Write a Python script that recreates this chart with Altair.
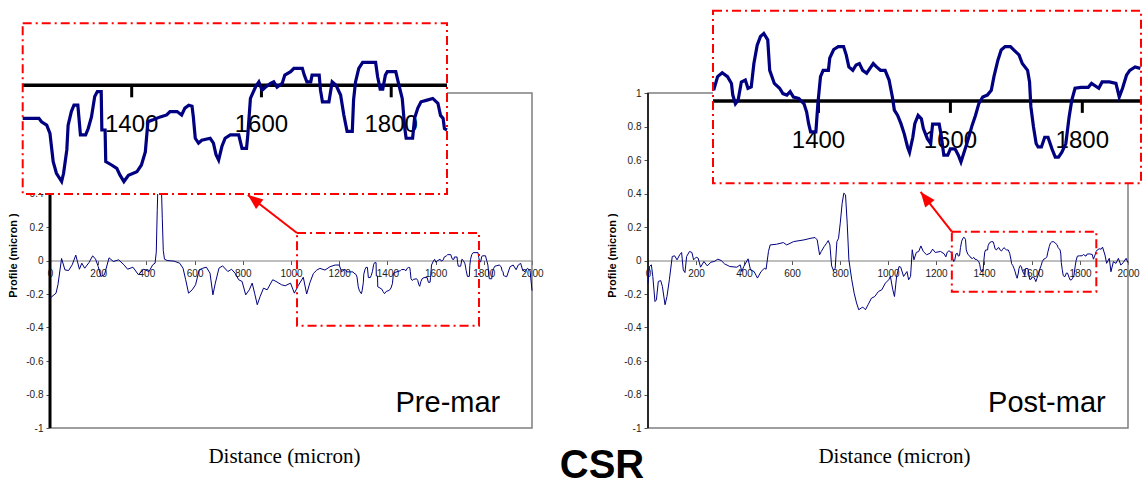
import math
import altair as alt
import pandas as pd

# ---------------- data ----------------
pre_d = [0, 25, 33, 48, 62, 77, 92, 107, 122, 132, 144, 162, 177, 189, 200, 211, 226, 245, 263, 285,
         307, 322, 344, 367, 389, 411, 426, 436, 441, 445, 450, 456, 461, 466, 470, 475, 486, 515, 538, 552,
         563, 575, 590, 604, 619, 634, 649, 664, 676, 686, 701, 716, 738, 753, 768, 783, 797, 812, 827, 839,
         849, 860, 872, 886, 901, 924, 938, 961, 976, 998, 1014, 1030, 1051, 1065, 1079, 1093, 1107, 1120, 1141, 1162,
         1183, 1200, 1210, 1224,
         1232, 1257, 1261, 1269, 1274, 1279, 1284, 1292, 1295, 1300, 1302, 1307, 1311, 1317, 1321, 1329, 1333, 1338,
         1343, 1347, 1353, 1354, 1359, 1360, 1369, 1377, 1382, 1388, 1395, 1408, 1415, 1421, 1425, 1433, 1444, 1454,
         1459, 1470, 1477, 1482, 1488, 1493, 1495, 1498, 1503, 1508, 1521, 1526, 1530, 1534, 1539, 1544, 1552, 1565,
         1570, 1577, 1579, 1583, 1591, 1596, 1601, 1606, 1614, 1619, 1624, 1632, 1636, 1645, 1650, 1663, 1666, 1670,
         1676, 1678, 1689, 1691, 1694, 1704, 1709, 1715, 1722, 1727, 1732, 1740, 1742, 1745, 1750, 1756, 1776, 1779,
         1783, 1787, 1791, 1794, 1807, 1812, 1817, 1821, 1823, 1833, 1836, 1841, 1846, 1854, 1864, 1872, 1876, 1880,
         1882, 1886,
         1895, 1909, 1922, 1934, 1943, 1953, 1961, 1971, 1981, 1992, 2000]
pre_v = [-0.225, -0.195, -0.145, 0.012, -0.056, -0.060, -0.026, 0.032, -0.052, -0.016, -0.046, -0.012, 0.028, 0.008,
         -0.036, -0.095, -0.085, 0.016, -0.006, 0.004,
         -0.026, -0.052, -0.040, -0.085, -0.052, -0.066, -0.026, -0.016, 0.05, 0.3, 0.55, 0.65, 0.5, 0.25, 0.06, 0.008,
         0.000, -0.004, -0.016, -0.046,
         -0.115, -0.195, -0.175, -0.145, -0.056, -0.046, -0.040, -0.076, -0.205, -0.135, -0.046, -0.032, -0.066, -0.052,
         -0.076, -0.115, -0.125, -0.205, -0.175, -0.135,
         -0.195, -0.264, -0.215, -0.165, -0.175, -0.115, -0.125, -0.145, -0.151, -0.135, -0.195, -0.15, -0.10, -0.20,
         -0.13, -0.077, -0.057, -0.047, -0.057, -0.037,
         -0.027, -0.027, -0.067, -0.052,
         -0.068, -0.068, -0.075, -0.082, -0.099, -0.157, -0.181, -0.198, -0.181, -0.133, -0.082, -0.054, -0.041, -0.041,
         -0.102, -0.102, -0.089, -0.065,
         -0.023, -0.013, -0.013, -0.092, -0.092, -0.157, -0.164, -0.171, -0.185, -0.198, -0.185, -0.178, -0.164, -0.137,
         -0.075, -0.071, -0.065, -0.061,
         -0.054, -0.054, -0.061, -0.047, -0.041, -0.043, -0.065, -0.109, -0.119, -0.113, -0.109, -0.119, -0.143, -0.154,
         -0.126, -0.109, -0.102, -0.102,
         -0.130, -0.130, -0.102, -0.027, -0.003, 0.007, -0.010, -0.004, 0.004, 0.007, -0.004, 0.004, 0.021, 0.028, 0.035,
         0.035, 0.021, 0.007,
         0.007, 0.021, 0.021, -0.010, -0.034, -0.034, 0.007, 0.000, -0.020, -0.061, -0.095, -0.095, -0.030, 0.007, 0.035,
         0.047, 0.047, 0.018,
         -0.008, -0.008, 0.021, 0.028, 0.028, 0.000, -0.027, -0.089, -0.109, -0.109, -0.068, -0.047, -0.034, -0.031,
         -0.027, -0.037, -0.062, -0.068,
         -0.089, -0.092,
         -0.097, -0.037, -0.027, -0.055, -0.027, -0.017, -0.057, -0.067, -0.047, -0.060, -0.18]

post_d = [0, 6, 14, 20, 29, 35, 43, 53, 60, 71, 79, 89, 101, 111, 121, 132, 140, 147, 154, 161,
          173, 183, 190, 201, 209, 219, 233, 247, 262, 276, 291, 305, 319, 341, 370, 384, 391, 399, 417, 427,
          442, 456, 471, 485, 492, 502, 509, 535, 564, 578, 607, 650, 679, 696, 705, 715, 722, 734, 744, 751,
          758, 765, 773, 780, 787, 794, 801, 809, 816, 823, 830, 837, 849, 859, 869, 878, 888, 895, 906, 917,
          931, 945, 960, 974, 989, 1003, 1010, 1020, 1027, 1036, 1046, 1053, 1065, 1079, 1086, 1094, 1101, 1108, 1118,
          1128, 1137, 1147, 1161, 1176, 1186, 1197, 1219, 1234,
          1241, 1247, 1254, 1262, 1268, 1270, 1274, 1278, 1283, 1289, 1293, 1298, 1302, 1307, 1312, 1317, 1323, 1326,
          1333, 1341, 1346, 1352, 1357, 1362, 1370, 1378, 1382, 1385, 1388, 1396, 1399, 1403, 1407, 1415, 1417, 1423,
          1430, 1438, 1442, 1446, 1452, 1457, 1462, 1467, 1473, 1478, 1483, 1488, 1494, 1501, 1507, 1512, 1515, 1520,
          1525, 1530, 1535, 1538, 1543, 1546, 1551, 1556, 1559, 1565, 1570, 1573, 1583, 1586, 1590, 1596, 1600, 1607,
          1612, 1616, 1620, 1625, 1633, 1638, 1643, 1649, 1656, 1662, 1666, 1672, 1677, 1683, 1691, 1696, 1704, 1709,
          1717, 1720, 1722, 1726, 1730, 1733, 1738, 1743, 1748, 1754, 1759, 1764, 1769, 1775, 1780, 1784, 1789, 1798,
          1809, 1814, 1825, 1830, 1841, 1851, 1856, 1861, 1867, 1872, 1880, 1888,
          1894, 1904, 1911, 1922, 1929, 1939, 1950, 1960, 1970, 1980, 1992, 2000]
post_v = [-0.135, -0.036, -0.026, -0.095, -0.245, -0.235, -0.125, -0.12, -0.155, -0.264, -0.215, -0.115, 0.024, 0.028,
          0.004, 0.034, 0.048, -0.056, -0.072, 0.024,
          0.054, 0.048, 0.004, 0.02, 0.014, -0.04, -0.006, -0.032, -0.01, -0.006, 0.008, 0.0, -0.02, -0.036, -0.04,
          -0.026, -0.066, -0.036, 0.01, -0.056,
          -0.066, -0.105, -0.066, -0.046, -0.052, 0.054, 0.093, 0.097, 0.107, 0.093, 0.113, 0.123, 0.133, 0.137, 0.123,
          0.034, 0.054, 0.083, 0.103, 0.119,
          0.093, -0.032, -0.06, -0.046, 0.113, 0.133, 0.223, 0.342, 0.402, 0.392, 0.223, 0.004, -0.115, -0.195, -0.254,
          -0.294, -0.284, -0.278, -0.294, -0.264,
          -0.225, -0.215, -0.185, -0.175, -0.135, -0.115, -0.095, -0.175, -0.215, -0.095, -0.036, -0.04, -0.095, -0.066,
          -0.115, -0.095, 0.064, 0.004, 0.048,
          0.054, 0.087, 0.054, 0.034, 0.044, 0.068, 0.048, 0.054, 0.040,
          0.022, 0.05, 0.058, 0.05, 0.036, 0.012, -0.006, 0.001, 0.039, 0.043, 0.026, 0.029, 0.077, 0.115, 0.133, 0.139,
          0.126, 0.063,
          0.036, 0.026, 0.015, 0.012, 0.019, 0.008, 0.005, -0.006, -0.023, -0.047, -0.064, -0.064, -0.006, 0.05, 0.063,
          0.063, 0.088, 0.106,
          0.112, 0.112, 0.095, 0.07, 0.063, 0.074, 0.077, 0.063, 0.057, 0.067, 0.077, 0.07, 0.063, 0.063, 0.043, 0.008,
          -0.019, -0.03,
          -0.047, -0.068, -0.095, -0.106, -0.075, -0.047, -0.03, -0.037, -0.057, -0.078, -0.088, -0.048, -0.048, -0.071,
          -0.112, -0.112, -0.099, -0.099,
          -0.112, -0.126, -0.109, -0.088, -0.05, -0.03, -0.006, 0.008, 0.012, 0.022, 0.05, 0.084, 0.105, 0.112, 0.112,
          0.105, 0.095, 0.077,
          0.063, 0.039, -0.012, -0.054, -0.088, -0.095, -0.095, -0.075, -0.075, -0.099, -0.116, -0.116, -0.106, -0.088,
          -0.033, 0.001, 0.026, 0.028,
          0.028, 0.036, 0.026, 0.039, 0.039, 0.036, 0.008, 0.026, 0.053, 0.063, 0.07, 0.067,
          0.08, 0.033, -0.017, 0.013, -0.067, -0.007, -0.017, 0.013, -0.027, -0.013, 0.013, -0.013]

x_ticks = [0, 200, 400, 600, 800, 1000, 1200, 1400, 1600, 1800, 2000]
y_ticks = [-1, -0.8, -0.6, -0.4, -0.2, 0, 0.2, 0.4, 0.6, 0.8, 1]
inset_ticks = [1400, 1600, 1800]
panel_names = ["Pre-mar", "Post-mar"]

# ---------------- layout ----------------
W, H = 1142, 489
X_DOMAIN = [0, 2000]
Y_DOMAIN = [-1, 1]
Y_RANGE = [428, 93]
X_AXIS_Y = 260.5

panels = [
    dict(name=panel_names[0], d=pre_d, v=pre_v, xr=[50, 532], axis_w=3, ytitle_x=-37, xtitle_x=284,
         label_at=(1651, -0.904), box_x=[1025, 1780], box_y=[-0.389, 0.164], arrow_to=(821, 0.391),
         inset_xd=[1232, 1886], inset_xr=[22.7, 447], inset_yd=[-0.2237, 0.1276], inset_yr=[194, 23.3]),
    dict(name=panel_names[1], d=post_d, v=post_v, xr=[648, 1128], axis_w=1.5, ytitle_x=-36, xtitle_x=894,
         label_at=(1662, -0.904), box_x=[1266, 1868], box_y=[-0.186, 0.172], arrow_to=(1136, 0.409),
         inset_xd=[1240, 1889], inset_xr=[713, 1141], inset_yd=[-0.17, 0.186], inset_yr=[183.3, 10.7]),
]

NAVY = "#000080"
RED = "#ff0000"
DASH = [9, 4, 2, 4]
SANS = "Liberation Sans"


def sc(dom, rng):
    return alt.Scale(domain=dom, range=rng, nice=False, zero=False)


def to_px(val, dom, rng):
    return rng[0] + (val - dom[0]) / (dom[1] - dom[0]) * (rng[1] - rng[0])


layers = []
inset_layers = []
for p in panels:
    xs = sc(X_DOMAIN, p["xr"])
    ys = sc(Y_DOMAIN, Y_RANGE)
    df = pd.DataFrame({"d": p["d"], "v": p["v"]})

    xaxis = alt.Axis(orient="bottom", offset=X_AXIS_Y - H, values=x_ticks, labelExpr="'' + datum.value",
                     domainColor="#7f7f7f", domainWidth=1, tickColor="#555555", tickSize=4, tickWidth=1,
                     labelFont=SANS, labelFontSize=10, labelColor="#222222", labelPadding=4,
                     labelFlush=False, labelOverlap=False, grid=False,
                     title="Distance (micron)", titleFont="Liberation Serif", titleFontSize=21,
                     titleFontWeight="normal", titleColor="black", titleX=p["xtitle_x"], titleY=196,
                     titleAlign="center", titleBaseline="middle", zindex=0)
    yaxis = alt.Axis(orient="left", offset=-p["xr"][0], values=y_ticks, labelExpr="'' + datum.value",
                     domain=False, tickColor="#555555", tickSize=4, tickWidth=1,
                     labelFont=SANS, labelFontSize=10, labelColor="#222222", labelPadding=3,
                     labelOverlap=False, grid=False,
                     title="Profile (micron )", titleFont=SANS, titleFontSize=11, titleFontWeight="bold",
                     titleColor="black", titleX=p["ytitle_x"], titleY=255, titleAngle=270,
                     titleAlign="center", titleBaseline="middle", zindex=0)

    frame_df = pd.DataFrame({"x0": [X_DOMAIN[0]], "x1": [X_DOMAIN[1]], "y0": [Y_DOMAIN[0]], "y1": [Y_DOMAIN[1]]})
    layers.append(alt.Chart(frame_df).mark_rect(fillOpacity=0, stroke="#7f7f7f", strokeWidth=1.5).encode(
        x=alt.X("x0:Q", scale=xs, axis=xaxis), x2="x1:Q",
        y=alt.Y("y0:Q", scale=ys, axis=yaxis), y2="y1:Q"))
    layers.append(alt.Chart(frame_df).mark_rule(color="black", strokeWidth=p["axis_w"]).encode(
        x=alt.X("x0:Q", scale=xs, axis=None),
        y=alt.Y("y0:Q", scale=ys, axis=None), y2="y1:Q"))
    layers.append(alt.Chart(df).mark_line(color=NAVY, strokeWidth=1).encode(
        x=alt.X("d:Q", scale=xs, axis=None), y=alt.Y("v:Q", scale=ys, axis=None)))

    box_df = pd.DataFrame({"x0": [p["box_x"][0]], "x1": [p["box_x"][1]],
                           "y0": [p["box_y"][0]], "y1": [p["box_y"][1]]})
    layers.append(alt.Chart(box_df).mark_rect(fillOpacity=0, stroke=RED, strokeWidth=2, strokeDash=DASH).encode(
        x=alt.X("x0:Q", scale=xs, axis=None), x2="x1:Q",
        y=alt.Y("y0:Q", scale=ys, axis=None), y2="y1:Q"))

    # arrow from the corner of the zoom box to the inset
    ax0, ay0 = p["box_x"][0], p["box_y"][1]
    ax1, ay1 = p["arrow_to"]
    px0, py0 = to_px(ax0, X_DOMAIN, p["xr"]), to_px(ay0, Y_DOMAIN, Y_RANGE)
    px1, py1 = to_px(ax1, X_DOMAIN, p["xr"]), to_px(ay1, Y_DOMAIN, Y_RANGE)
    ang = math.degrees(math.atan2(px1 - px0, -(py1 - py0))) % 360
    arrow_df = pd.DataFrame({"x0": [ax0], "y0": [ay0], "x1": [ax1], "y1": [ay1]})
    layers.append(alt.Chart(arrow_df).mark_rule(color=RED, strokeWidth=2).encode(
        x=alt.X("x0:Q", scale=xs, axis=None), x2="x1:Q",
        y=alt.Y("y0:Q", scale=ys, axis=None), y2="y1:Q"))
    layers.append(alt.Chart(arrow_df).mark_point(shape="M0,0 L-0.8,2 L0.8,2 Z", filled=True, color=RED,
                                                  opacity=1, size=225, angle=ang, strokeWidth=0).encode(
        x=alt.X("x1:Q", scale=xs, axis=None), y=alt.Y("y1:Q", scale=ys, axis=None)))

    lab_df = pd.DataFrame({"x": [p["label_at"][0]], "y": [p["label_at"][1]], "t": [p["name"]]})
    layers.append(alt.Chart(lab_df).mark_text(font=SANS, fontSize=29, color="black", align="center",
                                               baseline="alphabetic").encode(
        x=alt.X("x:Q", scale=xs, axis=None), y=alt.Y("y:Q", scale=ys, axis=None), text="t:N"))

    # ---------------- inset (magnified view) ----------------
    ixs = sc(p["inset_xd"], p["inset_xr"])
    iys = sc(p["inset_yd"], p["inset_yr"])
    ibox = pd.DataFrame({"x0": [p["inset_xd"][0]], "x1": [p["inset_xd"][1]],
                         "y0": [p["inset_yd"][0]], "y1": [p["inset_yd"][1]], "z": [0]})
    inset_layers.append(alt.Chart(ibox).mark_rect(color="white", opacity=1).encode(
        x=alt.X("x0:Q", scale=ixs, axis=None), x2="x1:Q",
        y=alt.Y("y0:Q", scale=iys, axis=None), y2="y1:Q"))
    inset_layers.append(alt.Chart(ibox).mark_rule(color="black", strokeWidth=3.5).encode(
        x=alt.X("x0:Q", scale=ixs, axis=None), x2="x1:Q",
        y=alt.Y("z:Q", scale=iys, axis=None)))
    tick_df = pd.DataFrame({"t": inset_ticks, "z": [0] * len(inset_ticks),
                            "lab": [str(t) for t in inset_ticks]})
    inset_layers.append(alt.Chart(tick_df).mark_tick(orient="vertical", color="black", size=12, thickness=3,
                                                      yOffset=6, opacity=1).encode(
        x=alt.X("t:Q", scale=ixs, axis=None), y=alt.Y("z:Q", scale=iys, axis=None)))
    inset_layers.append(alt.Chart(tick_df).mark_text(font=SANS, fontSize=24, color="black", align="center",
                                                      baseline="middle", dy=40).encode(
        x=alt.X("t:Q", scale=ixs, axis=None), y=alt.Y("z:Q", scale=iys, axis=None), text="lab:N"))
    inset_layers.append(alt.Chart(df).transform_filter(
        alt.FieldRangePredicate(field="d", range=p["inset_xd"])).mark_line(
        color=NAVY, strokeWidth=3.2).encode(
        x=alt.X("d:Q", scale=ixs, axis=None), y=alt.Y("v:Q", scale=iys, axis=None)))
    inset_layers.append(alt.Chart(ibox).mark_rect(fillOpacity=0, stroke=RED, strokeWidth=2,
                                                   strokeDash=DASH).encode(
        x=alt.X("x0:Q", scale=ixs, axis=None), x2="x1:Q",
        y=alt.Y("y0:Q", scale=iys, axis=None), y2="y1:Q"))

chart = alt.layer(*(layers + inset_layers)).resolve_scale(
    x="independent", y="independent").resolve_axis(x="independent", y="independent").properties(
    width=W, height=H, padding=0, autosize=alt.AutoSizeParams(type="none"),
    background="white",
    title=alt.TitleParams("CSR", orient="bottom", anchor="middle", frame="group", font=SANS, fontSize=40,
                          fontWeight="bold", color="black", baseline="alphabetic", offset=-11, dx=31),
).configure_view(strokeWidth=0)

chart.save("out.html", embed_options={"renderer": "svg", "actions": False})
